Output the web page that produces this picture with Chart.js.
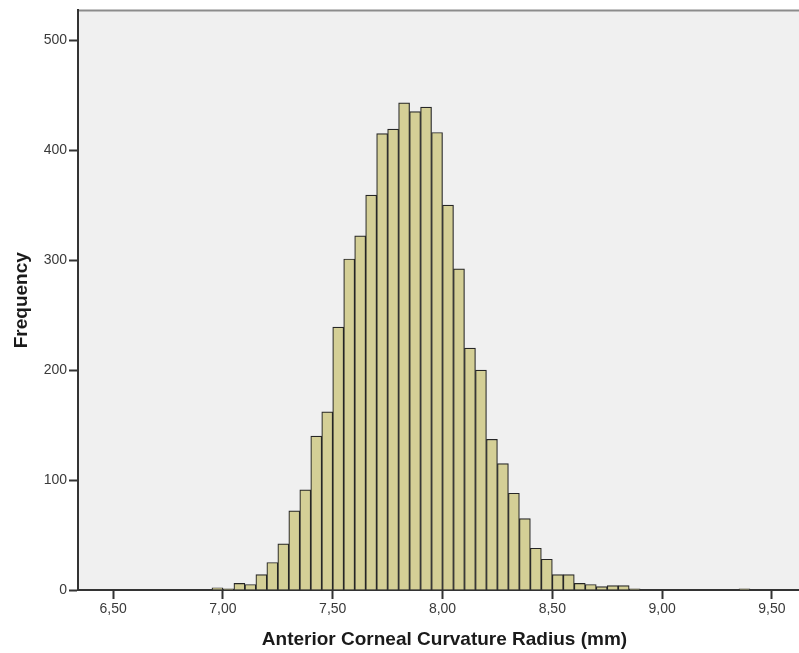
<!DOCTYPE html>
<html>
<head>
<meta charset="utf-8">
<script src="https://cdn.jsdelivr.net/npm/chart.js@4"></script>
<style>
  html, body { margin: 0; padding: 0; background: #fff; overflow: hidden; }
</style>
</head>
<body>
<canvas id="histChart" width="811" height="653"></canvas>
<script>
  'use strict';

  // bin midpoints (bin width 0.05 mm)
  const binMids = [
    6.975, 7.025, 7.075, 7.125, 7.175, 7.225, 7.275, 7.325, 7.375, 7.425,
    7.475, 7.525, 7.575, 7.625, 7.675, 7.725, 7.775, 7.825, 7.875, 7.925,
    7.975, 8.025, 8.075, 8.125, 8.175, 8.225, 8.275, 8.325, 8.375, 8.425,
    8.475, 8.525, 8.575, 8.625, 8.675, 8.725, 8.775, 8.825, 8.875, 8.925,
    8.975, 9.025, 9.075, 9.125, 9.175, 9.225, 9.275, 9.325, 9.375
  ];

  // frequency per bin
  const frequencies = [
    2, 1, 6, 5, 14, 25, 42, 72, 91, 140,
    162, 239, 301, 322, 359, 415, 419, 443, 435, 439,
    416, 350, 292, 220, 200, 137, 115, 88, 65, 38,
    28, 14, 14, 6, 5, 3, 4, 4, 1, 0,
    0, 0, 0, 0, 0, 0, 0, 0, 1
  ];

  const xTicks = [6.5, 7.0, 7.5, 8.0, 8.5, 9.0, 9.5];
  const yTicks = [0, 100, 200, 300, 400, 500];

  const colors = {
    bar: '#d4cf96',
    barBorder: '#262626',
    plotBg: '#f0f0f0',
    axis: '#333333',
    frame: '#8c8c8c',
    tickText: '#3a3a3a',
    title: '#1a1a1a'
  };

  const fontFamily = "'Liberation Sans', Arial, sans-serif";

  // grey plot background + top frame line
  const plotFrame = {
    id: 'plotFrame',
    beforeDraw(chart) {
      const { ctx, chartArea: a } = chart;
      ctx.save();
      ctx.fillStyle = colors.plotBg;
      ctx.fillRect(a.left, a.top, a.right - a.left, a.bottom - a.top);
      ctx.strokeStyle = colors.frame;
      ctx.lineWidth = 2;
      ctx.beginPath();
      ctx.moveTo(a.left, a.top);
      ctx.lineTo(a.right, a.top);
      ctx.stroke();
      ctx.restore();
    }
  };

  const points = binMids.map((x, i) => ({ x: x, y: frequencies[i] }));

  new Chart(document.getElementById('histChart'), {
    type: 'bar',
    data: {
      datasets: [{
        label: 'Frequency',
        data: points,
        backgroundColor: colors.bar,
        borderColor: colors.barBorder,
        borderWidth: 1.2,
        barPercentage: 1,
        categoryPercentage: 1
      }]
    },
    options: {
      responsive: false,
      animation: false,
      layout: { padding: { top: 8, right: 0, bottom: 0, left: 0 } },
      plugins: {
        legend: { display: false },
        tooltip: { enabled: false }
      },
      scales: {
        x: {
          type: 'linear',
          min: 6.34,
          max: 9.678,
          offset: false,
          afterBuildTicks: axis => { axis.ticks = xTicks.map(v => ({ value: v })); },
          afterFit: axis => { axis.height = 63; },
          ticks: {
            padding: 2,
            maxRotation: 0,
            color: colors.tickText,
            font: { family: fontFamily, size: 14 },
            callback: v => Number(v).toFixed(2).replace('.', ',')
          },
          grid: {
            offset: false,
            drawOnChartArea: false,
            drawTicks: true,
            tickLength: 9,
            tickWidth: 2,
            tickColor: colors.axis
          },
          border: { display: true, color: colors.axis, width: 2 },
          title: {
            display: true,
            text: 'Anterior Corneal Curvature Radius (mm)',
            color: colors.title,
            font: { family: fontFamily, size: 19, weight: 'bold' },
            padding: { top: 0, bottom: 2 }
          }
        },
        y: {
          min: 0,
          max: 527,
          afterBuildTicks: axis => { axis.ticks = yTicks.map(v => ({ value: v })); },
          afterFit: axis => { axis.width = 78; },
          ticks: {
            padding: 2,
            color: colors.tickText,
            font: { family: fontFamily, size: 14 }
          },
          grid: {
            drawOnChartArea: false,
            drawTicks: true,
            tickLength: 9,
            tickWidth: 2,
            tickColor: colors.axis
          },
          border: { display: true, color: colors.axis, width: 2 },
          title: {
            display: true,
            text: 'Frequency',
            color: colors.title,
            font: { family: fontFamily, size: 19, weight: 'bold' },
            padding: { top: 10, bottom: 0 }
          }
        }
      }
    },
    plugins: [plotFrame]
  });
</script>
</body>
</html>
